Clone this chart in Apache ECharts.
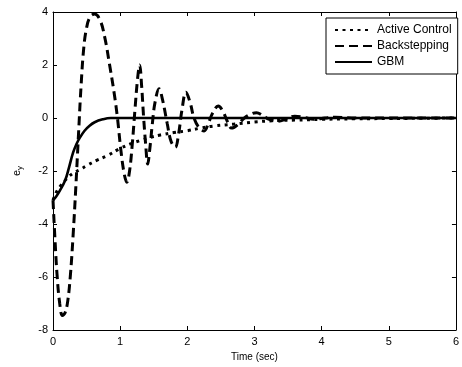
<!DOCTYPE html>
<html><head><meta charset="utf-8">
<script src="https://cdn.jsdelivr.net/npm/echarts@6/dist/echarts.min.js"></script>
<style>html,body{margin:0;padding:0;background:#fff}#c{width:462px;height:367px}</style>
</head><body><div id="c"></div>
<script>
var seriesNames = ['Active Control', 'Backstepping', 'GBM'];
var xTicks = [0, 1, 2, 3, 4, 5, 6];
var yTicks = [-8, -6, -4, -2, 0, 2, 4];

var activeT = [0, 0.05, 0.1, 0.2, 0.3, 0.4, 0.5, 0.65, 0.8, 1.0, 1.15, 1.3, 1.45, 1.6, 1.8, 2.0, 2.2, 2.4, 2.7, 3.0, 3.3, 3.6, 4.0, 4.5, 5.0, 5.5, 6.0];
var activeV = [-3.1, -2.8, -2.6, -2.3, -2.08, -1.95, -1.8, -1.6, -1.43, -1.15, -0.98, -0.85, -0.73, -0.64, -0.55, -0.48, -0.38, -0.3, -0.23, -0.15, -0.1, -0.08, -0.05, -0.03, -0.02, -0.01, 0];

var backT = [0, 0.03, 0.06, 0.1, 0.14, 0.18, 0.22, 0.26, 0.3, 0.34, 0.38, 0.42, 0.46, 0.5, 0.55, 0.62, 0.7, 0.77, 0.84, 0.91, 0.96, 1.01, 1.06, 1.1, 1.14, 1.18, 1.22, 1.26, 1.29, 1.32, 1.35, 1.38, 1.41, 1.44, 1.48, 1.52, 1.58, 1.63, 1.7, 1.76, 1.82, 1.87, 1.92, 1.98, 2.04, 2.1, 2.17, 2.25, 2.32, 2.38, 2.46, 2.53, 2.6, 2.66, 2.75, 2.85, 2.95, 3.03, 3.12, 3.22, 3.35, 3.48, 3.6, 3.75, 3.88, 4.05, 4.2, 4.5, 5.0, 6.0];
var backV = [-3.1, -4.6, -5.9, -7.0, -7.45, -7.35, -6.9, -5.9, -4.4, -2.6, -0.6, 1.3, 2.7, 3.4, 3.8, 3.92, 3.7, 3.05, 2.05, 0.95, 0.0, -1.2, -2.1, -2.42, -2.0, -1.0, 0.3, 1.5, 2.0, 1.2, 0.0, -1.0, -1.74, -1.2, -0.2, 0.6, 1.1, 0.7, -0.2, -0.9, -1.1, -0.6, 0.3, 0.97, 0.6, 0.0, -0.35, -0.49, -0.15, 0.2, 0.45, 0.25, -0.15, -0.38, -0.25, 0.0, 0.15, 0.2, 0.1, -0.05, -0.12, -0.03, 0.07, 0.02, -0.05, 0.0, 0.03, 0.0, 0.0, 0.0];

var gbmT = [0, 0.05, 0.1, 0.18, 0.24, 0.3, 0.35, 0.4, 0.47, 0.54, 0.62, 0.74, 0.86, 1.0, 2.0, 3.0, 4.0, 5.0, 6.0];
var gbmV = [-3.1, -2.95, -2.75, -2.36, -1.85, -1.3, -0.98, -0.74, -0.48, -0.3, -0.16, -0.05, 0.0, 0.0, 0.0, 0.0, 0.0, 0.0, 0.0];

function zip(a, b) { return a.map(function (t, i) { return [t, b[i]]; }); }

var font = 'Liberation Sans, Arial, sans-serif';
var chart = echarts.init(document.getElementById('c'));
var axisLine = { show: true, onZero: false, lineStyle: { color: '#000', width: 1 } };
var tick = { show: true, inside: true, length: 4, lineStyle: { color: '#000' } };
chart.setOption({
  animation: false,
  backgroundColor: '#fff',
  grid: { left: 53, right: 1, top: 12, bottom: 35 },
  legend: {
    orient: 'vertical', left: 326, top: 18,
    backgroundColor: '#fff', borderColor: '#000', borderWidth: 1,
    padding: [6, 6, 6, 8], itemGap: 4, itemWidth: 37, itemHeight: 14,
    itemStyle: { color: 'rgba(0,0,0,0)', borderWidth: 0 },
    textStyle: { fontFamily: font, fontSize: 12, color: '#000' },
    data: seriesNames
  },
  xAxis: [{
    type: 'value', min: 0, max: 6, interval: 1,
    axisLine: axisLine, axisTick: tick, splitLine: { show: false },
    axisLabel: { fontFamily: font, fontSize: 11, color: '#000', margin: 6 },
    name: 'Time (sec)', nameLocation: 'middle', nameGap: 22,
    nameTextStyle: { fontFamily: font, fontSize: 10, color: '#000' }
  }, {
    type: 'value', min: 0, max: 6, interval: 1, position: 'top',
    axisLine: axisLine, axisTick: tick, axisLabel: { show: false }, splitLine: { show: false }
  }],
  yAxis: [{
    type: 'value', min: -8, max: 4, interval: 2,
    axisLine: axisLine, axisTick: tick, splitLine: { show: false },
    axisLabel: { fontFamily: font, fontSize: 11, color: '#000', margin: 5 },
    name: '{a|e}{b|y}', nameLocation: 'middle', nameGap: 29, nameRotate: 90,
    nameTextStyle: {
      rich: {
        a: { fontFamily: font, fontSize: 11, color: '#000' },
        b: { fontFamily: font, fontSize: 8, color: '#000', padding: [6, 0, 0, 0] }
      }
    }
  }, {
    type: 'value', min: -8, max: 4, interval: 2, position: 'right',
    axisLine: axisLine, axisTick: tick, axisLabel: { show: false }, splitLine: { show: false }
  }],
  series: [{
    name: seriesNames[0], type: 'line', showSymbol: false, symbol: 'none', smooth: 0.4,
    data: zip(activeT, activeV),
    lineStyle: { color: '#000', width: 3, type: [3, 4.5] }, itemStyle: { color: '#000' }
  }, {
    name: seriesNames[1], type: 'line', showSymbol: false, symbol: 'none', smooth: 0.4,
    data: zip(backT, backV),
    lineStyle: { color: '#000', width: 3, type: [9, 5] }, itemStyle: { color: '#000' }
  }, {
    name: seriesNames[2], type: 'line', showSymbol: false, symbol: 'none', smooth: 0.4,
    data: zip(gbmT, gbmV),
    lineStyle: { color: '#000', width: 2.6, type: 'solid' }, itemStyle: { color: '#000' }
  }]
});
</script></body></html>
